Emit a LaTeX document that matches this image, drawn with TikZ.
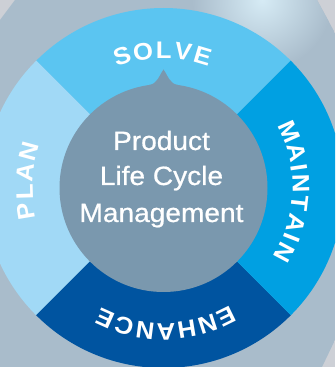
\documentclass[tikz,border=0pt]{standalone}
\usepackage{fontspec}
\usetikzlibrary{calc}
\newfontfamily\plcfont[FakeStretch=1.07]{Liberation Sans}
\newfontfamily\hubfont[FakeStretch=1.06,FakeBold=0.7]{Liberation Sans}
\definecolor{bgout}{HTML}{CDD0D6}
\definecolor{bgin}{HTML}{A9BCCB}
\definecolor{glare}{HTML}{D6EBF5}
\definecolor{solvecol}{HTML}{5BC5F1}
\definecolor{maintaincol}{HTML}{00A0E2}
\definecolor{enhancecol}{HTML}{0054A0}
\definecolor{plancol}{HTML}{A1D9F6}
\definecolor{hubcol}{HTML}{7A98AE}

\begin{document}
\begin{tikzpicture}[x=1pt,y=1pt,
    letter/.style={text=white,inner sep=0pt,font=\plcfont\bfseries\fontsize{24}{24}\selectfont},
    hubtext/.style={text=white,inner sep=0pt,anchor=base,font=\hubfont\fontsize{26.5}{30}\selectfont}]
  \useasboundingbox (0,0) rectangle (335,367);
  \clip (0,0) rectangle (335,367);
  \coordinate (c) at (163.5,179);
  \coordinate (tip) at (163.5,297.5);

  % background
  \fill[bgout] (0,0) rectangle (335,367);
  \begin{scope}
    \clip (0,0) -- (0,347) -- (15,367) -- (317,367) -- (335,334) -- (335,27) -- (322,0) -- cycle;
    \fill[bgin] (0,0) rectangle (335,367);
    \shade[inner color=glare,outer color=bgin] (262,367) circle (70);
  \end{scope}

  % ring
  \fill[solvecol] (c) -- ($(c)+(45:180)$) arc[start angle=45,end angle=135,radius=180] -- cycle;
  \fill[plancol] (c) -- ($(c)+(135:180)$) arc[start angle=135,end angle=225,radius=180] -- cycle;
  \fill[enhancecol] (c) -- ($(c)+(225:180)$) arc[start angle=225,end angle=315,radius=180] -- cycle;
  \fill[maintaincol] (c) -- ($(c)+(-45:180)$) arc[start angle=-45,end angle=45,radius=180] -- cycle;

  % hub with its tip
  \fill[hubcol] (c) circle (104);
  \fill[hubcol] ($(c)+(98:104)$) to[out=8,in=235] (tip) to[out=-55,in=172] ($(c)+(82:104)$) -- cycle;

  % ring labels, one letter at a time
  \foreach \ch/\a [count=\i] in {S/107.45,O/98.5,L/89.85,V/81.8,E/73.45}
    \node[letter,rotate=\a-90] (solve-\i) at ($(c)+(\a:138)$) {\ch};
  \foreach \ch/\a [count=\i] in {M/24.2,A/14.9,I/8.3,N/1.7,T/-6.5,A/-14.8,I/-21.4,N/-28.0}
    \node[letter,rotate=\a-90] (maintain-\i) at ($(c)+(\a:137.5)$) {\ch};
  \foreach \ch/\a [count=\i] in {E/-63.9,N/-72.1,H/-80.6,A/-89,N/-97.4,C/-105.9,E/-114.1}
    \node[letter,rotate=\a-90] (enhance-\i) at ($(c)+(\a:143.5)$) {\ch};
  \foreach \ch/\a [count=\i] in {P/189.5,L/181.6,A/173.5,N/164.7}
    \node[letter,rotate=\a-90] (plan-\i) at ($(c)+(\a:139)$) {\ch};

  % hub text
  \node[hubtext] (product) at ($(c)+(-2,38)$) {Product};
  \node[hubtext] (lifecycle) at ($(c)+(-2,3)$) {Life Cycle};
  \node[hubtext] (management) at ($(c)+(-2,-34)$) {Management};
\end{tikzpicture}
\end{document}
